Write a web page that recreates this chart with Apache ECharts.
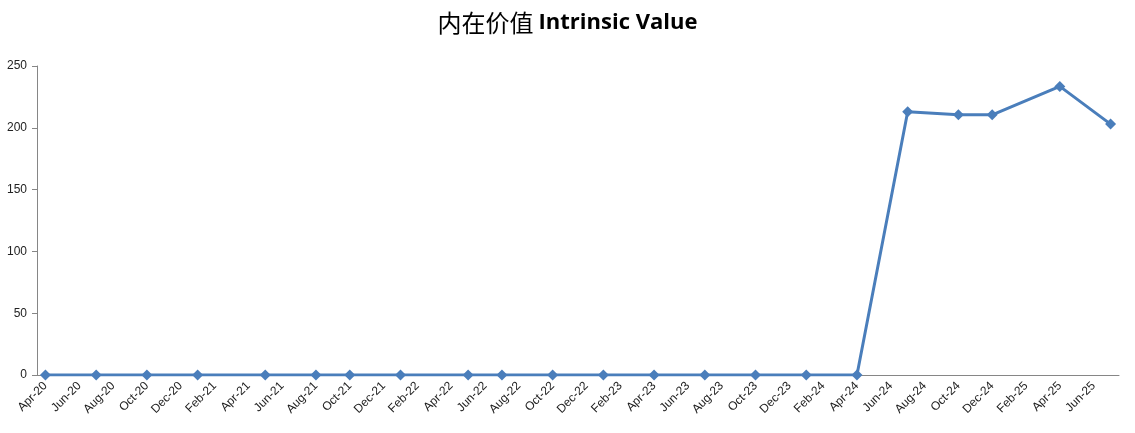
<!DOCTYPE html>
<html>
<head>
<meta charset="utf-8">
<script src="https://cdn.jsdelivr.net/npm/echarts@6/dist/echarts.min.js"></script>
<style>
  html, body { margin: 0; padding: 0; background: #fff; }
  #chart { width: 1135px; height: 433px; }
</style>
</head>
<body>
<div id="chart"></div>
<script>
// monthly slots of the date axis, one label every two months
const months = [
  "Apr-20", "May-20", "Jun-20", "Jul-20", "Aug-20", "Sep-20", "Oct-20", "Nov-20", "Dec-20", "Jan-21", "Feb-21", "Mar-21",
  "Apr-21", "May-21", "Jun-21", "Jul-21", "Aug-21", "Sep-21", "Oct-21", "Nov-21", "Dec-21", "Jan-22", "Feb-22", "Mar-22",
  "Apr-22", "May-22", "Jun-22", "Jul-22", "Aug-22", "Sep-22", "Oct-22", "Nov-22", "Dec-22", "Jan-23", "Feb-23", "Mar-23",
  "Apr-23", "May-23", "Jun-23", "Jul-23", "Aug-23", "Sep-23", "Oct-23", "Nov-23", "Dec-23", "Jan-24", "Feb-24", "Mar-24",
  "Apr-24", "May-24", "Jun-24", "Jul-24", "Aug-24", "Sep-24", "Oct-24", "Nov-24", "Dec-24", "Jan-25", "Feb-25", "Mar-25",
  "Apr-25", "May-25", "Jun-25", "Jul-25"
];

// observation dates and intrinsic values
const dates = [
  "Apr-20", "Jul-20", "Oct-20", "Jan-21", "May-21", "Aug-21", "Oct-21", "Jan-22",
  "May-22", "Jul-22", "Oct-22", "Jan-23", "Apr-23", "Jul-23", "Oct-23", "Jan-24",
  "Apr-24", "Jul-24", "Oct-24", "Dec-24", "Apr-25", "Jul-25"
];
const values = [
  0, 0, 0, 0, 0, 0, 0, 0,
  0, 0, 0, 0, 0, 0, 0, 0,
  0, 213, 210.5, 210.5, 233.5, 203
];

const yTicks = { min: 0, max: 250, interval: 50 };

const chart = echarts.init(document.getElementById("chart"));

const option = {
  animation: false,
  title: {
    text: "{cn|内在价值} {en|Intrinsic Value}",
    left: "center",
    top: 6,
    textStyle: {
      rich: {
        cn: {
          fontFamily: "Noto Sans CJK SC",
          fontSize: 24,
          fontWeight: "normal",
          color: "#000",
        },
        en: {
          fontFamily: "Open Sans",
          fontSize: 22,
          fontWeight: "bold",
          color: "#000",
        },
      },
    },
  },
  grid: {
    left: 37,
    right: 16,
    top: 66,
    bottom: 58,
  },
  xAxis: {
    type: "category",
    data: months,
    boundaryGap: true,
    axisLine: { lineStyle: { color: "#868686", width: 1 } },
    axisTick: {
      interval: 1,
      length: 5,
      lineStyle: { color: "#868686" },
    },
    axisLabel: {
      interval: 1,
      rotate: 45,
      margin: 9,
      fontFamily: "Liberation Sans",
      fontSize: 12,
      color: "#222",
    },
    splitLine: { show: false },
  },
  yAxis: {
    type: "value",
    min: yTicks.min,
    max: yTicks.max,
    interval: yTicks.interval,
    axisLine: { show: true, lineStyle: { color: "#868686", width: 1 } },
    axisTick: { show: true, length: 5, lineStyle: { color: "#868686" } },
    axisLabel: {
      margin: 10,
      fontFamily: "Liberation Sans",
      fontSize: 12,
      color: "#222",
    },
    splitLine: { show: false },
  },
  series: [
    {
      name: "Intrinsic Value",
      type: "line",
      data: dates.map((d, i) => [d, values[i]]),
      symbol: "diamond",
      symbolSize: 11,
      lineStyle: { color: "#4a7ebb", width: 3 },
      itemStyle: { color: "#4a7ebb" },
    },
  ],
};

chart.setOption(option);
</script>
</body>
</html>
